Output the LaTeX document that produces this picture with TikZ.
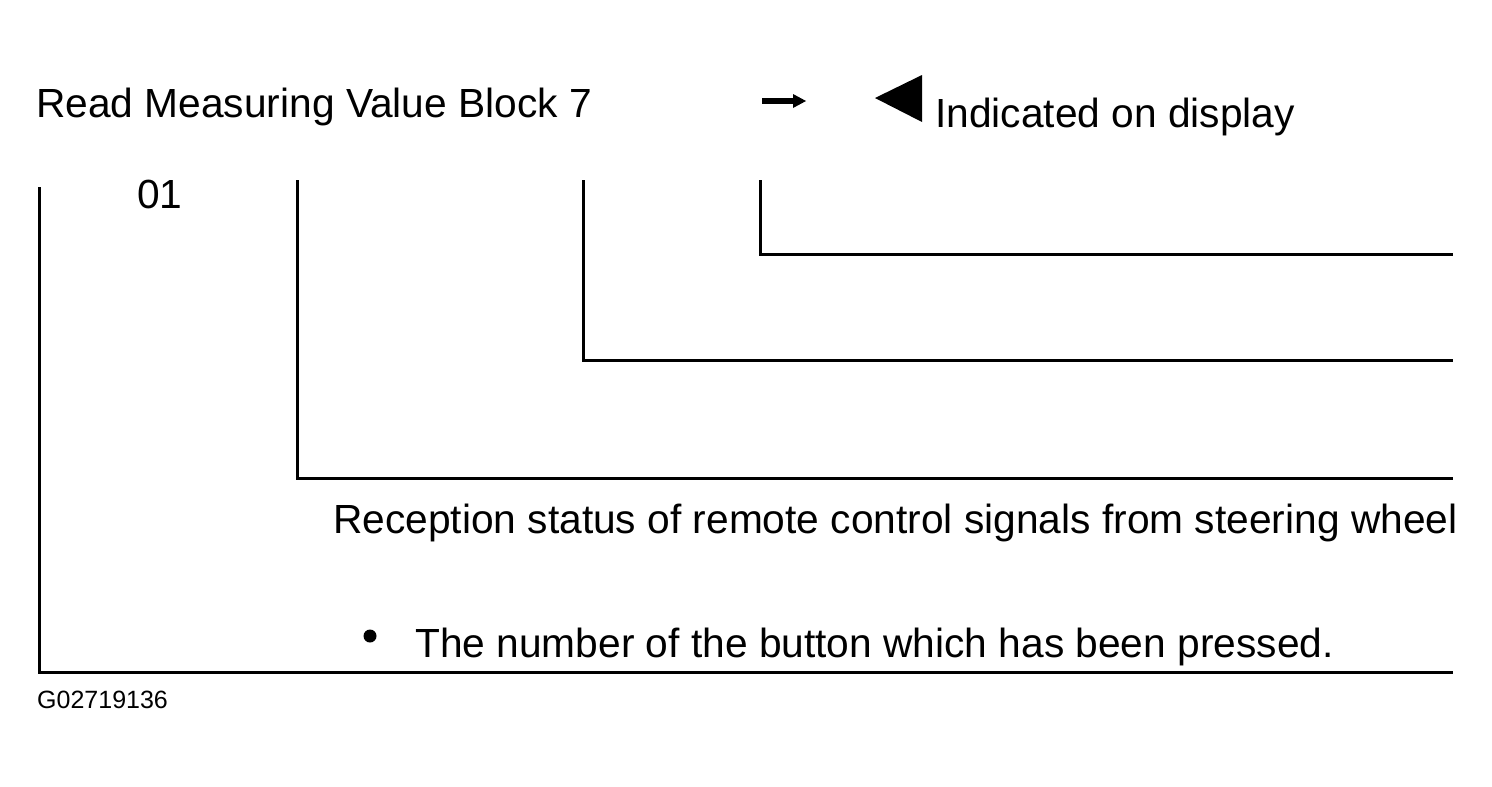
\documentclass[tikz,border=0pt]{standalone}
\usepackage{fontspec}
\setmainfont{Liberation Sans}
\begin{document}
\begin{tikzpicture}[x=1pt,y=-1pt,
  ln/.style={line width=3pt},
  lbl/.style={inner sep=0pt,anchor=base west,font=\fontsize{40.7}{44}\selectfont},
  small/.style={inner sep=0pt,anchor=base west,font=\fontsize{25}{28}\selectfont}]
\useasboundingbox[fill=white] (0,0) rectangle (1492,787);
\node[lbl] (title) at (36,117) {Read Measuring Value Block 7};
\coordinate (a1) at (762,101);
\coordinate (a2) at (806,101);
\draw[line width=6pt] (a1) -- (796,101);
\fill (a2) -- (793,94) -- (793,108) -- cycle;
\fill (875,98) -- (922,75) -- (922,122) -- cycle;
\node[lbl] (ind) at (935,127) {Indicated on display};
\node[lbl] (n01) at (137,208) {01};
\coordinate (v0t) at (39,187);
\coordinate (v0b) at (39,672);
\coordinate (bR) at (1453,672);
\draw[ln] (v0t) -- (v0b) -- (bR);
\coordinate (v1t) at (297,180);
\coordinate (v1b) at (297,478);
\coordinate (h1) at (1453,478);
\draw[ln] (v1t) -- (v1b) -- (h1);
\coordinate (v2t) at (583,180);
\coordinate (v2b) at (583,360);
\coordinate (h2) at (1453,360);
\draw[ln] (v2t) -- (v2b) -- (h2);
\coordinate (v3t) at (760,180);
\coordinate (v3b) at (760,254);
\coordinate (h3) at (1453,254);
\draw[ln] (v3t) -- (v3b) -- (h3);
\node[lbl] (rec) at (333,533) {Reception status of remote control signals from steering wheel};
\fill (370,636) circle (6.5);
\node[lbl] (num) at (415,657) {The number of the button which has been pressed.};
\node[small] (gid) at (37,708) {G02719136};
\end{tikzpicture}
\end{document}
